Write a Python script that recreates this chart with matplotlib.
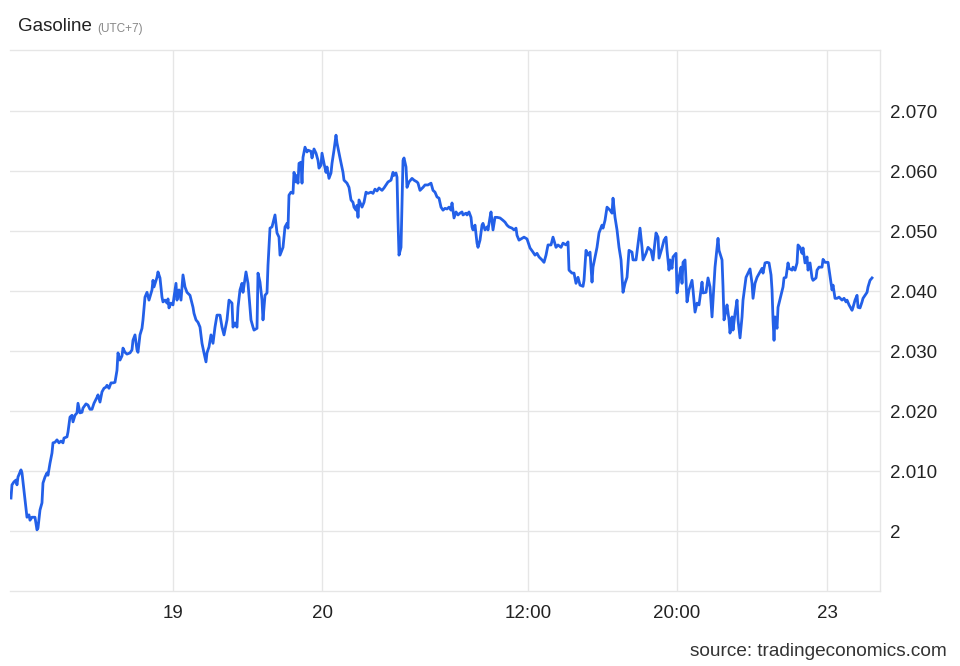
import matplotlib
matplotlib.use("Agg")
import matplotlib.pyplot as plt

plt.rcParams["font.family"] = ["Liberation Sans", "DejaVu Sans"]

# bar index on the compressed trading-time axis, and the gasoline price
bar = [1, 2, 4, 6, 7, 8, 11, 12, 14, 16, 17, 19, 20, 22, 25, 27, 28, 30, 32, 33,
       35, 37, 38, 40, 42, 43, 45, 47, 49, 51, 53, 54, 57, 58, 60, 62, 63, 65, 67, 68,
       70, 72, 73, 76, 78, 80, 82, 84, 87, 88, 90, 92, 94, 96, 97, 99, 101, 103, 105, 107,
       108, 110, 112, 113, 115, 117, 120, 122, 123, 125, 127, 128, 130, 132, 133, 135, 137, 139, 142, 143,
       144, 147, 148, 150, 152, 153, 155, 157, 158, 159, 161, 163, 164, 166, 167, 169, 171, 173, 175, 177,
       180, 183, 184, 186, 188, 190, 192, 194, 196, 197, 199, 201, 203, 205, 207, 210, 212, 214, 217, 219,
       222, 223, 225, 227, 228, 230, 232, 233, 236, 238, 241, 243, 244, 247, 248, 250, 252, 253, 255, 257,
       258, 260, 262, 265, 267, 269, 270, 273, 275, 277, 278, 279, 281, 283, 284, 286, 287, 288, 289, 291,
       292, 293, 295, 297, 298, 301, 302, 304, 306, 308, 309, 311, 312, 314, 316, 317, 319, 321, 322, 324,
       326, 327, 330, 333, 334, 337, 339, 341, 343, 344, 346, 347, 348, 349, 352, 354, 356, 358, 361, 363,
       365, 367, 369, 372, 374, 376, 378, 381, 383, 384, 386, 387, 388, 389, 391, 392, 393, 394, 396, 397,
       399, 402, 404, 407, 408, 410, 413, 415, 418, 421, 423, 425, 427, 429, 431, 433, 435, 437, 439, 441,
       442, 444, 446, 448, 450, 452, 453, 456, 457, 459, 461, 462, 463, 465, 467, 468, 470, 472, 473, 475,
       477, 478, 480, 481, 483, 485, 487, 490, 493, 495, 497, 499, 502, 504, 506, 507, 509, 512, 514, 517,
       518, 520, 523, 525, 527, 529, 532, 534, 536, 538, 541, 543, 546, 548, 551, 553, 556, 558, 559, 562,
       564, 566, 568, 570, 573, 574, 576, 578, 580, 582, 583, 587, 589, 592, 593, 595, 597, 600, 602, 603,
       605, 607, 609, 611, 613, 615, 617, 619, 622, 623, 626, 627, 630, 632, 633, 636, 638, 641, 643, 644,
       646, 648, 649, 652, 654, 656, 657, 659, 660, 662, 663, 666, 667, 669, 671, 672, 673, 675, 677, 679,
       682, 683, 685, 687, 689, 692, 693, 696, 698, 700, 702, 703, 705, 707, 708, 709, 712, 713, 714, 716,
       717, 719, 720, 722, 723, 725, 727, 728, 730, 732, 733, 736, 738, 740, 742, 743, 745, 747, 750, 752,
       753, 755, 757, 759, 761, 762, 763, 764, 765, 767, 768, 771, 773, 774, 776, 778, 779, 782, 783, 785,
       787, 788, 790, 792, 793, 795, 797, 798, 800, 802, 803, 806, 807, 809, 812, 813, 815, 818, 821, 822,
       823, 825, 827, 829, 832, 834, 836, 837, 839, 842, 843, 845, 847, 848, 850, 852, 853, 855, 857, 858,
       860, 862]

price = [2.0055, 2.0077, 2.0082, 2.0085, 2.0077, 2.0090, 2.0102, 2.0097, 2.0068, 2.0040,
         2.0023, 2.0027, 2.0018, 2.0023, 2.0023, 2.0002, 2.0005, 2.0035, 2.0047, 2.0080,
         2.0090, 2.0097, 2.0093, 2.0113, 2.0130, 2.0147, 2.0148, 2.0152, 2.0147, 2.0150,
         2.0147, 2.0155, 2.0157, 2.0165, 2.0190, 2.0193, 2.0182, 2.0193, 2.0197, 2.0213,
         2.0197, 2.0198, 2.0205, 2.0212, 2.0210, 2.0203, 2.0203, 2.0213, 2.0223, 2.0227,
         2.0215, 2.0232, 2.0238, 2.0240, 2.0243, 2.0238, 2.0247, 2.0247, 2.0248, 2.0268,
         2.0297, 2.0285, 2.0292, 2.0305, 2.0298, 2.0295, 2.0297, 2.0302, 2.0318, 2.0327,
         2.0302, 2.0298, 2.0327, 2.0338, 2.0352, 2.0390, 2.0398, 2.0385, 2.0402, 2.0418,
         2.0407, 2.0423, 2.0432, 2.0422, 2.0390, 2.0382, 2.0385, 2.0380, 2.0387, 2.0372,
         2.0380, 2.0377, 2.0390, 2.0413, 2.0385, 2.0402, 2.0385, 2.0427, 2.0407, 2.0398,
         2.0393, 2.0373, 2.0363, 2.0352, 2.0348, 2.0340, 2.0313, 2.0297, 2.0282, 2.0297,
         2.0307, 2.0327, 2.0313, 2.0340, 2.0360, 2.0360, 2.0340, 2.0327, 2.0352, 2.0385,
         2.0380, 2.0340, 2.0347, 2.0340, 2.0373, 2.0402, 2.0413, 2.0398, 2.0432, 2.0413,
         2.0352, 2.0340, 2.0335, 2.0338, 2.0430, 2.0415, 2.0385, 2.0352, 2.0393, 2.0397,
         2.0443, 2.0505, 2.0507, 2.0527, 2.0497, 2.0490, 2.0460, 2.0473, 2.0507, 2.0513,
         2.0505, 2.0560, 2.0565, 2.0563, 2.0598, 2.0582, 2.0593, 2.0580, 2.0613, 2.0615,
         2.0580, 2.0623, 2.0640, 2.0632, 2.0635, 2.0633, 2.0622, 2.0637, 2.0630, 2.0618,
         2.0605, 2.0610, 2.0630, 2.0613, 2.0598, 2.0607, 2.0588, 2.0597, 2.0613, 2.0635,
         2.0660, 2.0647, 2.0622, 2.0598, 2.0585, 2.0580, 2.0573, 2.0552, 2.0548, 2.0540,
         2.0535, 2.0543, 2.0523, 2.0552, 2.0540, 2.0548, 2.0565, 2.0563, 2.0565, 2.0563,
         2.0570, 2.0567, 2.0572, 2.0568, 2.0572, 2.0577, 2.0582, 2.0585, 2.0598, 2.0593,
         2.0597, 2.0590, 2.0518, 2.0460, 2.0473, 2.0547, 2.0618, 2.0622, 2.0607, 2.0573,
         2.0582, 2.0588, 2.0585, 2.0582, 2.0580, 2.0568, 2.0573, 2.0577, 2.0577, 2.0580,
         2.0568, 2.0565, 2.0557, 2.0555, 2.0540, 2.0535, 2.0538, 2.0537, 2.0540, 2.0535,
         2.0547, 2.0522, 2.0532, 2.0527, 2.0530, 2.0532, 2.0527, 2.0530, 2.0527, 2.0532,
         2.0523, 2.0507, 2.0502, 2.0510, 2.0480, 2.0473, 2.0485, 2.0510, 2.0513, 2.0502,
         2.0507, 2.0502, 2.0523, 2.0532, 2.0502, 2.0523, 2.0523, 2.0522, 2.0518, 2.0515,
         2.0510, 2.0507, 2.0505, 2.0502, 2.0505, 2.0493, 2.0485, 2.0488, 2.0490, 2.0487,
         2.0482, 2.0472, 2.0465, 2.0460, 2.0463, 2.0457, 2.0452, 2.0448, 2.0460, 2.0477,
         2.0477, 2.0490, 2.0473, 2.0477, 2.0473, 2.0480, 2.0477, 2.0482, 2.0435, 2.0430,
         2.0430, 2.0413, 2.0423, 2.0410, 2.0408, 2.0418, 2.0468, 2.0460, 2.0465, 2.0415,
         2.0440, 2.0473, 2.0497, 2.0510, 2.0505, 2.0518, 2.0540, 2.0535, 2.0530, 2.0555,
         2.0523, 2.0502, 2.0473, 2.0452, 2.0398, 2.0413, 2.0423, 2.0468, 2.0465, 2.0452,
         2.0452, 2.0465, 2.0505, 2.0473, 2.0452, 2.0463, 2.0473, 2.0468, 2.0452, 2.0468,
         2.0497, 2.0490, 2.0455, 2.0472, 2.0485, 2.0490, 2.0468, 2.0435, 2.0452, 2.0438,
         2.0457, 2.0463, 2.0397, 2.0423, 2.0440, 2.0413, 2.0448, 2.0452, 2.0382, 2.0402,
         2.0418, 2.0402, 2.0365, 2.0380, 2.0377, 2.0415, 2.0397, 2.0398, 2.0422, 2.0407,
         2.0357, 2.0385, 2.0440, 2.0473, 2.0488, 2.0468, 2.0452, 2.0407, 2.0352, 2.0368,
         2.0377, 2.0352, 2.0330, 2.0357, 2.0335, 2.0363, 2.0385, 2.0352, 2.0322, 2.0357,
         2.0385, 2.0423, 2.0430, 2.0437, 2.0413, 2.0388, 2.0413, 2.0423, 2.0432, 2.0438,
         2.0430, 2.0447, 2.0448, 2.0447, 2.0427, 2.0402, 2.0352, 2.0318, 2.0357, 2.0338,
         2.0373, 2.0393, 2.0407, 2.0422, 2.0423, 2.0447, 2.0438, 2.0435, 2.0440, 2.0435,
         2.0447, 2.0477, 2.0473, 2.0463, 2.0472, 2.0447, 2.0457, 2.0435, 2.0447, 2.0422,
         2.0418, 2.0422, 2.0435, 2.0440, 2.0440, 2.0453, 2.0448, 2.0448, 2.0413, 2.0402,
         2.0410, 2.0388, 2.0388, 2.0390, 2.0385, 2.0388, 2.0382, 2.0385, 2.0377, 2.0368,
         2.0373, 2.0385, 2.0393, 2.0373, 2.0372, 2.0382, 2.0388, 2.0393, 2.0398, 2.0407,
         2.0418, 2.0422]

x_ticks = [163, 312, 518, 667, 817]
x_labels = ["19", "20", "12:00", "20:00", "23"]
y_ticks = [2.00, 2.01, 2.02, 2.03, 2.04, 2.05, 2.06, 2.07]
y_labels = ["2", "2.010", "2.020", "2.030", "2.040", "2.050", "2.060", "2.070"]

grid_color = "#e6e6e6"

fig = plt.figure(figsize=(9.6, 6.66), dpi=100)
ax = fig.add_axes([0.0104, 0.1126, 0.9063, 0.8123])

ax.plot(bar, price, color="#2360e8", linewidth=2.0, solid_joinstyle="round")

ax.set_xlim(0, 870)
ax.set_ylim(1.99, 2.0802)
ax.set_xticks(x_ticks)
ax.set_xticklabels(x_labels)
ax.set_yticks(y_ticks)
ax.set_yticklabels(y_labels)
ax.yaxis.tick_right()
ax.tick_params(axis="both", length=0, labelsize=13.5, colors="#222222")
ax.tick_params(axis="x", pad=10)
ax.tick_params(axis="y", pad=7)
ax.grid(True, color=grid_color, linewidth=1)
ax.set_axisbelow(True)

for side in ["top", "right", "bottom"]:
    ax.spines[side].set_color(grid_color)
    ax.spines[side].set_linewidth(1)
ax.spines["left"].set_visible(False)

fig.text(0.019, 0.96, "Gasoline", fontsize=13.5, color="#222222", va="center")
fig.text(0.1015, 0.957, "(UTC+7)", fontsize=8.5, color="#888888", va="center")
fig.text(0.986, 0.009, "source: tradingeconomics.com", fontsize=13.7, color="#333333",
         ha="right", va="bottom")

fig.savefig("out.png", dpi=100)
